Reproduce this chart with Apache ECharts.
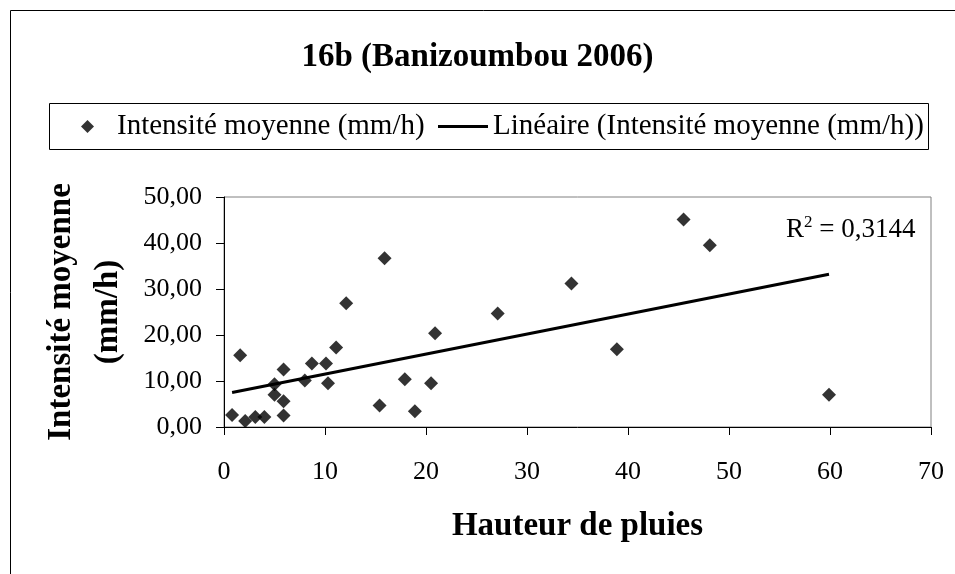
<!DOCTYPE html>
<html>
<head>
<meta charset="utf-8">
<script src="https://cdn.jsdelivr.net/npm/echarts@6/dist/echarts.min.js"></script>
<style>
  html, body { margin: 0; padding: 0; background: #fff; }
  #main { width: 955px; height: 574px; }
</style>
</head>
<body>
<div id="main"></div>
<script>
// hauteur de pluie (mm) et intensité moyenne (mm/h)
const hauteur = [0.8, 1.6, 2.1, 3.1, 4.0, 5.0, 5.0, 5.9, 5.9, 5.9, 8.0, 8.7, 10.1, 10.3,
  11.1, 12.1, 15.4, 15.9, 17.9, 18.9, 20.5, 20.9, 27.1, 34.4, 38.9, 45.5, 48.1, 59.9]
const intensite = [2.6, 15.6, 1.3, 2.2, 2.2, 9.3, 7.0, 12.5, 5.6, 2.5, 10.1, 13.8, 13.8, 9.5,
  17.3, 26.9, 4.7, 36.7, 10.4, 3.4, 9.5, 20.4, 24.7, 31.2, 16.9, 45.1, 39.5, 7.0]
const r2Text = '0,3144'

const font = 'Liberation Serif'
const serieNom = 'Intensité moyenne (mm/h)'
const trendNom = 'Linéaire (Intensité moyenne (mm/h))'

// droite de régression (moindres carrés)
const n = hauteur.length
let mx = 0, my = 0
for (let i = 0; i < n; i++) { mx += hauteur[i]; my += intensite[i] }
mx /= n; my /= n
let sxy = 0, sxx = 0
for (let i = 0; i < n; i++) {
  sxy += (hauteur[i] - mx) * (intensite[i] - my)
  sxx += (hauteur[i] - mx) * (hauteur[i] - mx)
}
const pente = sxy / sxx
const ordonnee = my - pente * mx
const xmin = Math.min(...hauteur), xmax = Math.max(...hauteur)
const trend = [[xmin, ordonnee + pente * xmin], [xmax, ordonnee + pente * xmax]]

const points = hauteur.map((h, i) => [h, intensite[i]])

const option = {
  animation: false,
  backgroundColor: '#fff',
  title: {
    text: '16b (Banizoumbou 2006)',
    left: 'center',
    top: 36,
    textStyle: { fontFamily: font, fontSize: 33, fontWeight: 'bold', color: '#000' }
  },
  legend: [
    {
      data: [{ name: serieNom, icon: 'diamond' }],
      left: 76, top: 107,
      itemWidth: 13, itemHeight: 13,
      textStyle: { fontFamily: font, fontSize: 29, color: '#000', padding: [0, 0, 0, 18] }
    },
    {
      data: [{ name: trendNom, icon: 'rect' }],
      left: 433, top: 107,
      itemWidth: 50, itemHeight: 3,
      textStyle: { fontFamily: font, fontSize: 29, color: '#000' }
    }
  ],
  grid: {
    left: 224, right: 24, top: 197, bottom: 147,
    show: true, borderColor: '#808080', borderWidth: 1
  },
  xAxis: {
    type: 'value', min: 0, max: 70, interval: 10,
    name: 'Hauteur de pluies', nameLocation: 'middle', nameGap: 83,
    nameTextStyle: { fontFamily: font, fontSize: 33, fontWeight: 'bold', color: '#000' },
    axisLine: { show: true, lineStyle: { color: '#000', width: 1 } },
    axisTick: { show: true, length: 8, lineStyle: { color: '#000' } },
    axisLabel: { fontFamily: font, fontSize: 26, color: '#000', margin: 32 },
    splitLine: { show: false }
  },
  yAxis: {
    type: 'value', min: 0, max: 50, interval: 10,
    name: 'Intensité moyenne\n(mm/h)', nameLocation: 'middle', nameGap: 92,
    nameTextStyle: { fontFamily: font, fontSize: 33, fontWeight: 'bold', color: '#000', lineHeight: 47 },
    axisLine: { show: true, lineStyle: { color: '#000', width: 1 } },
    axisTick: { show: true, length: 8, lineStyle: { color: '#000' } },
    axisLabel: {
      fontFamily: font, fontSize: 26, color: '#000', margin: 22,
      formatter: v => v.toFixed(2).replace('.', ',')
    },
    splitLine: { show: false }
  },
  graphic: [
    {
      type: 'rect', left: 8, top: 8, silent: true,
      shape: { width: 1000, height: 700 },
      style: { fill: 'none', stroke: '#000', lineWidth: 1 }
    },
    {
      type: 'rect', left: 47, top: 101, silent: true,
      shape: { width: 879, height: 46 },
      style: { fill: 'none', stroke: '#000', lineWidth: 1 }
    },
    {
      type: 'text', left: 786, top: 214, silent: true,
      style: {
        text: '{r|R}{s|2}{r| = ' + r2Text + '}',
        rich: {
          r: { fontFamily: font, fontSize: 27, fill: '#000', verticalAlign: 'bottom' },
          s: { fontFamily: font, fontSize: 17, fill: '#000', verticalAlign: 'top', padding: [0, 0, 12, 0] }
        }
      }
    }
  ],
  series: [
    {
      name: serieNom,
      type: 'scatter',
      symbol: 'diamond',
      symbolSize: 14,
      itemStyle: { color: '#000' },
      data: points,
      z: 3
    },
    {
      name: trendNom,
      type: 'line',
      showSymbol: false,
      symbol: 'none',
      lineStyle: { color: '#000', width: 3 },
      itemStyle: { color: '#000' },
      data: trend,
      z: 2
    }
  ]
}

const chart = echarts.init(document.getElementById('main'))
chart.setOption(option)
</script>
</body>
</html>
